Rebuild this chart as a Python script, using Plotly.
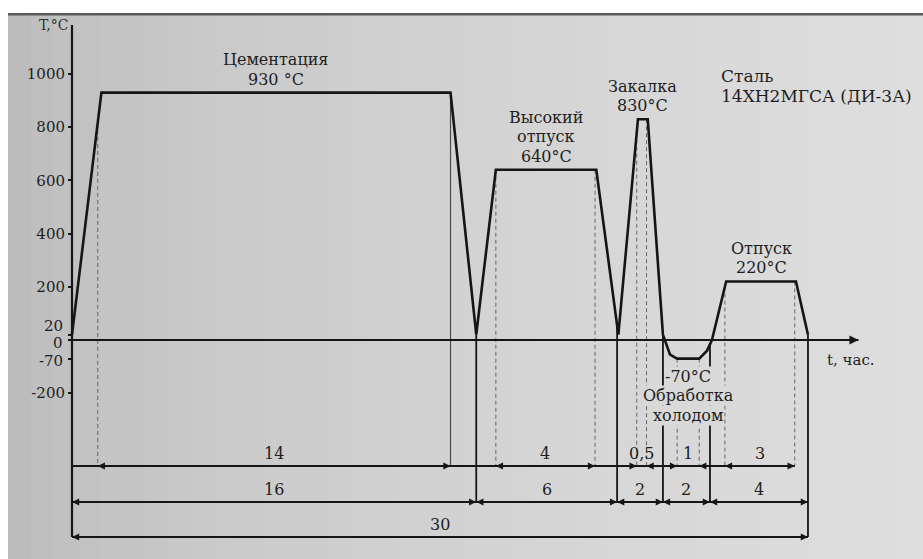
import numpy as np
import plotly.graph_objects as go

# ---------------- data ----------------
# temperature / time curve: time in hours, temperature in °C
curve_t = [0.0, 1.2, 15.45, 16.5, 17.3, 21.4, 22.3, 23.1, 23.5, 24.12,
           24.41, 24.7, 25.6, 25.92, 26.12, 26.7, 29.55, 30.04]
curve_T = [20, 930, 930, 20, 640, 640, 20, 830, 830, 20,
           -55, -70, -70, -40, 0, 220, 220, 20]

# process stages (holding intervals)
stage_start = [1.2, 17.3, 23.1, 24.7, 26.7]
stage_end = [15.45, 21.4, 23.5, 25.6, 29.55]
stage_temp = [930, 640, 830, -70, 220]
stage_name = [["Цементация"], ["Высокий", "отпуск"], ["Закалка"],
              ["Обработка", "холодом"], ["Отпуск"]]
stage_temp_text = ["930 °С", "640°С", "830°С", "-70°С", "220°С"]

# y-axis ticks
y_ticks = [1000, 800, 600, 400, 200, 20, 0, -70, -200]
y_tick_text = ["1000", "800", "600", "400", "200", "20", "0", "-70", "-200"]
crowded_ticks = [20, 0, -70]          # labels written separately to avoid overlap

# duration dimension rows (hours)
row1_start = [1.05, 17.3, 23.05, 24.7, 26.65]
row1_end = [15.45, 21.35, 23.45, 25.6, 29.5]
row1_text = ["14", "4", "0,5", "1", "3"]
row2_start = [0.0, 16.5, 22.25, 24.12, 26.04]
row2_end = [16.5, 22.25, 24.12, 26.04, 30.04]
row2_text = ["16", "6", "2", "2", "4"]
row3_start = [0.0]
row3_end = [30.04]
row3_text = ["30"]

steel_lines = ["Сталь", "14ХН2МГСА (ДИ-3А)"]
y_title = "T,°C"
t_title = "t, час."

# ---------------- layout constants ----------------
W, H = 923, 559
X0, PXH = 72.0, 24.5        # pixel of t=0, pixels per hour
Y0, PXC = 340.0, 0.266      # pixel of T=0, pixels per °C
x_range = [-X0 / PXH, (W - X0) / PXH]
y_range = [-(H - Y0) / PXC, Y0 / PXC]


def T_of_px(py):
    return (Y0 - py) / PXC


ROW_LEVEL = [T_of_px(466), T_of_px(502), T_of_px(537)]
Y_AXIS_TOP = T_of_px(25)
T_AXIS_END = 32.1
FONT = "DejaVu Serif"
INK = "#151515"
TXT = "#1e1e1e"
TICK_SIZE = 15
LABEL_SIZE = 16


def bg_gray(px):
    v = int(round(182 + 40 * (max(px, 0) / W) ** 0.5))
    return f"rgb({v},{v},{v})"


fig = go.Figure()

# ---------------- background (scanned paper look) ----------------
shapes = []
n_bands = 40
edges = np.linspace(8, W, n_bands + 1)
for a, b in zip(edges[:-1], edges[1:]):
    shapes.append(dict(type="rect", xref="paper", yref="paper", layer="below",
                       x0=a / W, x1=b / W + 0.002, y0=0, y1=1 - 15 / H,
                       line=dict(width=0), fillcolor=bg_gray((a + b) / 2)))
shapes.append(dict(type="rect", xref="paper", yref="paper", layer="below",
                   x0=8 / W, x1=1, y0=1 - 15.5 / H, y1=1 - 13 / H,
                   line=dict(width=0), fillcolor="#5a5a5a"))


def curve_at(t):
    return float(np.interp(t, curve_t, curve_T))


def seg_xy(segs):
    xs, ys = [], []
    for (xa, ya, xb, yb) in segs:
        xs += [xa, xb, None]
        ys += [ya, yb, None]
    return xs, ys


# ---------------- extension lines ----------------
row1_bounds = sorted(set(row1_start + row1_end))
thin_solid = [row1_end[0]]
dashed = [b for b in row1_bounds if b not in thin_solid]
xs, ys = seg_xy([(b, curve_at(b), b, ROW_LEVEL[0]) for b in dashed])
fig.add_trace(go.Scatter(x=xs, y=ys, mode="lines", hoverinfo="skip",
                         line=dict(color="#666666", width=1, dash="4px,3px")))
xs, ys = seg_xy([(b, curve_at(b), b, ROW_LEVEL[0]) for b in thin_solid])
fig.add_trace(go.Scatter(x=xs, y=ys, mode="lines", hoverinfo="skip",
                         line=dict(color="#4a4a4a", width=1.2)))

row2_bounds = sorted(set(row2_start + row2_end) - {0.0})
solid = []
for b in row2_bounds:
    bottom = ROW_LEVEL[2] if b in row3_end else ROW_LEVEL[1]
    solid.append((b, curve_at(b), b, bottom))
xs, ys = seg_xy(solid)
fig.add_trace(go.Scatter(x=xs, y=ys, mode="lines", hoverinfo="skip",
                         line=dict(color=INK, width=1.8)))

# ---------------- axes lines ----------------
fig.add_trace(go.Scatter(x=[0, 0], y=[Y_AXIS_TOP, ROW_LEVEL[2]], mode="lines",
                         hoverinfo="skip", line=dict(color=INK, width=2.2)))
fig.add_trace(go.Scatter(x=[0, T_AXIS_END], y=[0, 0], mode="lines",
                         hoverinfo="skip", line=dict(color=INK, width=2)))

# ---------------- dimension rows ----------------
ann = []
rows = [(row1_start, row1_end, row1_text),
        (row2_start, row2_end, row2_text),
        (row3_start, row3_end, row3_text)]
for lvl, (st, en, tx) in zip(ROW_LEVEL, rows):
    fig.add_trace(go.Scatter(x=[0, max(en)], y=[lvl, lvl], mode="lines",
                             hoverinfo="skip", line=dict(color=INK, width=2)))
    for s, e, label in zip(st, en, tx):
        small = (e - s) * PXH < 30
        for xp, direction in ((s, 1), (e, -1)):
            ax = -direction * 11 if small else direction * 11
            ann.append(dict(x=xp, y=lvl, ax=ax, ay=0, text="", showarrow=True,
                            arrowhead=2, arrowsize=0.9, arrowwidth=1.6,
                            arrowcolor=INK, standoff=0, startstandoff=0))
        ann.append(dict(x=(s + e) / 2, y=lvl, text=label, showarrow=False,
                        yanchor="bottom", yshift=1,
                        font=dict(family=FONT, size=LABEL_SIZE, color=TXT)))

# ---------------- the curve ----------------
fig.add_trace(go.Scatter(x=curve_t, y=curve_T, mode="lines", hoverinfo="skip",
                         line=dict(color=INK, width=2.6)))

# time axis arrowhead
ann.append(dict(x=T_AXIS_END, y=0, ax=-14, ay=0, text="", showarrow=True,
                arrowhead=2, arrowsize=1, arrowwidth=1.8, arrowcolor=INK,
                standoff=0))

# ---------------- stage labels ----------------
LINE_H = 19.5
GAP = 2
for s, e, T, names, ttxt in zip(stage_start, stage_end, stage_temp,
                                stage_name, stage_temp_text):
    mid = (s + e) / 2
    if T >= 0:
        lines = names + [ttxt]
        for k, line in enumerate(reversed(lines)):
            ann.append(dict(x=mid, y=T, text=line, showarrow=False,
                            yanchor="bottom", yshift=GAP + k * LINE_H,
                            font=dict(family=FONT, size=LABEL_SIZE, color=TXT)))
    else:
        lines = [ttxt] + names
        col = bg_gray(X0 + mid * PXH)
        for k, line in enumerate(lines):
            ann.append(dict(x=mid, y=T, text=line, showarrow=False,
                            yanchor="top", yshift=-(GAP + 5 + k * LINE_H),
                            bgcolor=col, borderpad=0,
                            font=dict(family=FONT, size=LABEL_SIZE, color=TXT)))

# steel grade
for k, line in enumerate(steel_lines):
    ann.append(dict(xref="paper", yref="paper", x=719 / W, y=1 - (76 + k * 20) / H,
                    xanchor="left", yanchor="middle", text=line, showarrow=False,
                    font=dict(family=FONT, size=17, color=TXT)))

# axis titles
ann.append(dict(x=0, y=Y_AXIS_TOP, xanchor="right", yanchor="middle", xshift=-2,
                text=y_title, showarrow=False,
                font=dict(family=FONT, size=14, color="#333")))
ann.append(dict(x=T_AXIS_END - 0.3, y=0, yanchor="top", yshift=-9,
                text=t_title, showarrow=False,
                font=dict(family=FONT, size=15, color=TXT)))

# crowded tick labels near zero, spread slightly apart
crowd_shift = {20: 8.5, 0: -3, -70: -2.5}
for v in crowded_ticks:
    ann.append(dict(x=0, y=v, xanchor="right", yanchor="middle", xshift=-7,
                    yshift=crowd_shift[v], text=y_tick_text[y_ticks.index(v)],
                    showarrow=False,
                    font=dict(family=FONT, size=TICK_SIZE, color=TXT)))

fig.update_layout(
    width=W, height=H, margin=dict(l=0, r=0, t=0, b=0),
    paper_bgcolor="white", plot_bgcolor="rgba(0,0,0,0)",
    showlegend=False, shapes=shapes, annotations=ann,
    xaxis=dict(range=x_range, visible=False, fixedrange=True),
    yaxis=dict(range=y_range, anchor="free", position=X0 / W,
               tickvals=y_ticks,
               ticktext=["" if v in crowded_ticks else t
                         for v, t in zip(y_ticks, y_tick_text)],
               ticks="outside", ticklen=4, tickwidth=1.5, tickcolor=INK,
               showgrid=False, zeroline=False, showline=False,
               tickfont=dict(family=FONT, size=TICK_SIZE, color=TXT),
               fixedrange=True),
)

fig.write_html("out.html")
